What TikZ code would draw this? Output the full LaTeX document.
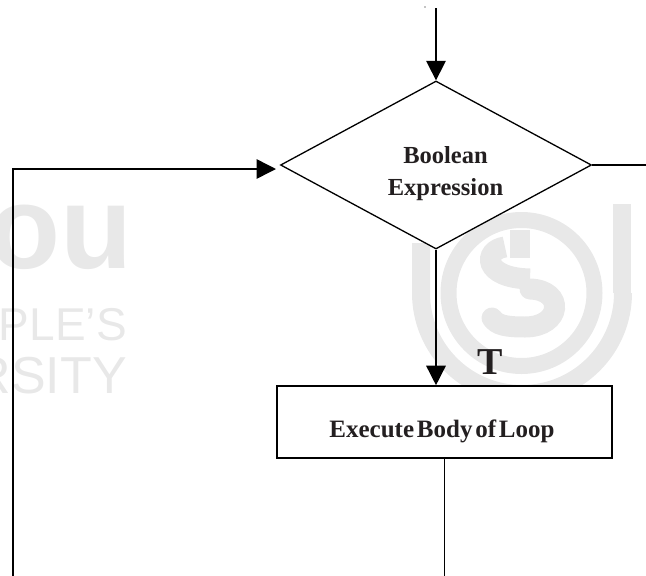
\documentclass[tikz,border=0pt]{standalone}
\usepackage{fontspec}
\setmainfont{Liberation Serif}
\newfontfamily\wmfont{Liberation Sans}
\newfontfamily\tightfont[WordSpace=0.45,BoldFont={Liberation Serif Bold}]{Liberation Serif}
\usetikzlibrary{shapes.geometric,arrows.meta}
\definecolor{wm}{HTML}{E8E8E8}
\definecolor{ink}{HTML}{231F20}
\tikzset{
  conn/.style={draw=black,line width=1.5pt},
  arr/.style={conn,-{Triangle[width=19.5pt,length=19.5pt]}},
  boxtext/.style={font=\bfseries\fontsize{24.5}{32}\selectfont,text=ink,align=center,inner sep=0pt},
  wmtext/.style={text=wm,inner sep=0pt,anchor=base east},
  wmband/.style={draw=wm,line cap=butt},
  dia/.style={shape=diamond,draw=black,line width=1.3pt,fill=white,minimum width=311pt,minimum height=168pt,inner sep=0pt,aspect=1.85},
  boxn/.style={draw=black,line width=1.6pt,fill=white,minimum width=335pt,minimum height=72pt,inner sep=0pt}
}
\begin{document}
\begin{tikzpicture}[x=1pt,y=-1pt]
\useasboundingbox (0,0) rectangle (646,576);
\clip (0,0) rectangle (646,576);
% watermark
\node[wmtext,font=\wmfont\bfseries\fontsize{118}{118}\selectfont] (wa) at (133,268) {ou};
\node[wmtext,font=\wmfont\fontsize{46}{46}\selectfont] (wb) at (127,340) {OPLE’S};
\node[wmtext,font=\wmfont\fontsize{52}{52}\selectfont] (wc) at (127,393) {RSITY};
\draw[wmband,line width=18pt] (421,243) -- (421,293) arc[start angle=180,end angle=0,radius=101,y radius=101] ;
\draw[wmband,line width=18pt] (622,293) -- (622,204);
\draw[wmband,line width=16pt] (521.5,293) circle (73);
\fill[wm] (510,230) rectangle (530,258);
\draw[wmband,line width=21pt] (505,247) .. controls (483,250) and (482,278) .. (530,279);
\draw[wmband,line width=21pt,line cap=round] (530,289) .. controls (565,290) and (562,327) .. (525,327) .. controls (505,327) and (497,325) .. (492,318);
% diagram
\node[dia] (d) at (436,165) {};
\node[boxtext] (dt) at (445.5,174) {Boolean\\Expression};
\node[boxn] (r) at (444.5,422) {};
\node[boxtext,font=\tightfont\bfseries\fontsize{25}{30}\selectfont] (rt) at (442,431) {Execute Body of Loop};
\node[font=\bfseries\fontsize{38}{40}\selectfont,text=ink,inner sep=0pt] (t) at (490,362) {T};
\fill (425,7) circle (0.6);
\coordinate (top) at (436,8);
\coordinate (lb) at (13,576);
\coordinate (lc) at (13,169);
\coordinate (lt) at (276,169);
\coordinate (re) at (646,165);
\coordinate (rb) at (444.5,576);
\draw[arr] (top) -- (d.north);
\draw[arr] (d.south) -- (d.south |- r.north);
\draw[arr] (lb) -- (lc) -- (lt);
\draw[conn] (d.east) -- (re);
\draw[conn] (r.south) -- (rb);
\end{tikzpicture}
\end{document}
